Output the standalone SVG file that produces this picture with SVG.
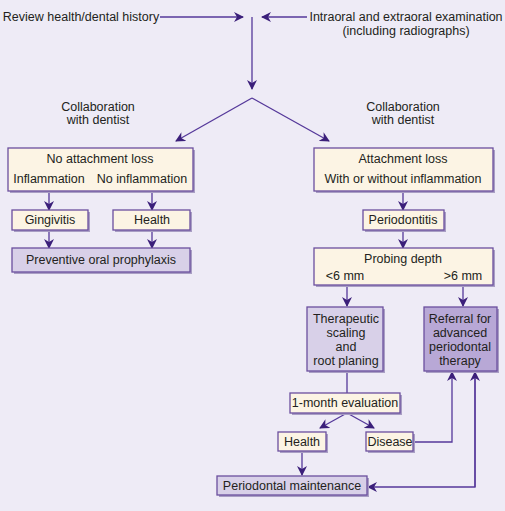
<svg xmlns="http://www.w3.org/2000/svg" width="505" height="511" viewBox="0 0 505 511">
<style>
text{font-family:"Liberation Sans",Arial,sans-serif;font-size:12.5px;fill:#231f20;text-anchor:middle}
.box{stroke:#6b4f9e;stroke-width:1.3}
.cream{fill:#fcf4e4}
.lav{fill:#d8d0e8}
.dark{fill:#b8a8d6}
.sh{fill:#a99ec4}
.ln{fill:none;stroke:#55389a;stroke-width:1.3}
</style>
<defs>
<marker id="ah" viewBox="0 0 10 10" refX="9" refY="5" markerWidth="10" markerHeight="10" markerUnits="userSpaceOnUse" orient="auto">
<path d="M0,0 L10,5 L0,10 L3,5 z" fill="#3b1f7a"/>
</marker>
</defs>
<rect width="505" height="511" fill="#eeebf6"/>
<g id="connectors">
<line class="ln" x1="160" y1="17" x2="243" y2="17" marker-end="url(#ah)"/>
<line class="ln" x1="307" y1="17" x2="262" y2="17" marker-end="url(#ah)"/>
<line class="ln" x1="252" y1="17" x2="252" y2="89" marker-end="url(#ah)"/>
<line class="ln" x1="252" y1="98" x2="176" y2="141" marker-end="url(#ah)"/>
<line class="ln" x1="252" y1="98" x2="329" y2="141" marker-end="url(#ah)"/>
<line class="ln" x1="49" y1="191" x2="49" y2="210" marker-end="url(#ah)"/>
<line class="ln" x1="152" y1="191" x2="152" y2="210" marker-end="url(#ah)"/>
<line class="ln" x1="49" y1="230" x2="49" y2="248" marker-end="url(#ah)"/>
<line class="ln" x1="152" y1="230" x2="152" y2="248" marker-end="url(#ah)"/>
<line class="ln" x1="403" y1="191" x2="403" y2="210" marker-end="url(#ah)"/>
<line class="ln" x1="403" y1="230" x2="403" y2="248" marker-end="url(#ah)"/>
<line class="ln" x1="347" y1="285" x2="347" y2="306" marker-end="url(#ah)"/>
<line class="ln" x1="463" y1="285" x2="463" y2="306" marker-end="url(#ah)"/>
<line class="ln" x1="347" y1="371" x2="347" y2="393"/>
<line class="ln" x1="347" y1="413" x2="320" y2="428" marker-end="url(#ah)"/>
<line class="ln" x1="347" y1="413" x2="374" y2="428" marker-end="url(#ah)"/>
<polyline class="ln" points="413,442 452,442 452,372" marker-end="url(#ah)"/>
<line class="ln" x1="302" y1="451" x2="302" y2="475" marker-end="url(#ah)"/>
<polyline class="ln" points="475,372 475,487 368,487" marker-end="url(#ah)"/>
<line class="ln" x1="475" y1="487" x2="475" y2="372" marker-end="url(#ah)"/>
</g>
<g id="review"><text x="81" y="21">Review health/dental history</text></g>
<g id="exam"><text x="406" y="21">Intraoral and extraoral examination</text><text x="406" y="35">(including radiographs)</text></g>
<g id="collab-left"><text x="98" y="111">Collaboration</text><text x="98" y="124">with dentist</text></g>
<g id="collab-right"><text x="403" y="111">Collaboration</text><text x="403" y="124">with dentist</text></g>
<g id="no-attachment-loss">
<rect class="sh" x="10" y="150" width="185" height="43"/>
<rect class="box cream" x="8" y="148" width="185" height="43"/>
<text x="100" y="163">No attachment loss</text>
<text x="49" y="183">Inflammation</text>
<text x="142" y="183">No inflammation</text>
</g>
<g id="gingivitis">
<rect class="sh" x="14" y="212" width="76" height="20"/>
<rect class="box cream" x="12" y="210" width="76" height="20"/>
<text x="50" y="224">Gingivitis</text>
</g>
<g id="health-left">
<rect class="sh" x="115" y="212" width="77" height="20"/>
<rect class="box cream" x="113" y="210" width="77" height="20"/>
<text x="152" y="224">Health</text>
</g>
<g id="prophylaxis">
<rect class="sh" x="14" y="250" width="178" height="24"/>
<rect class="box lav" x="12" y="248" width="178" height="24"/>
<text x="101" y="264">Preventive oral prophylaxis</text>
</g>
<g id="attachment-loss">
<rect class="sh" x="316" y="150" width="179" height="43"/>
<rect class="box cream" x="314" y="148" width="179" height="43"/>
<text x="403" y="163">Attachment loss</text>
<text x="403" y="183">With or without inflammation</text>
</g>
<g id="periodontitis">
<rect class="sh" x="365" y="212" width="81" height="20"/>
<rect class="box cream" x="363" y="210" width="81" height="20"/>
<text x="403" y="224">Periodontitis</text>
</g>
<g id="probing">
<rect class="sh" x="316" y="250" width="179" height="37"/>
<rect class="box cream" x="314" y="248" width="179" height="37"/>
<text x="403" y="263">Probing depth</text>
<text x="345" y="280">&lt;6 mm</text>
<text x="463" y="280">&gt;6 mm</text>
</g>
<g id="scaling">
<rect class="sh" x="309" y="309" width="76" height="64"/>
<rect class="box lav" x="307" y="307" width="76" height="64"/>
<text x="346" y="323">Therapeutic</text>
<text x="346" y="337">scaling</text>
<text x="346" y="351">and</text>
<text x="346" y="365">root planing</text>
</g>
<g id="referral">
<rect class="sh" x="426" y="309" width="73" height="64"/>
<rect class="box dark" x="424" y="307" width="73" height="64"/>
<text x="460" y="323">Referral for</text>
<text x="460" y="337">advanced</text>
<text x="460" y="351">periodontal</text>
<text x="460" y="365">therapy</text>
</g>
<g id="evaluation">
<rect class="sh" x="292" y="395" width="110" height="20"/>
<rect class="box cream" x="290" y="393" width="110" height="20"/>
<text x="345" y="407">1-month evaluation</text>
</g>
<g id="health-right">
<rect class="sh" x="280" y="434" width="48" height="19"/>
<rect class="box cream" x="278" y="432" width="48" height="19"/>
<text x="302" y="446">Health</text>
</g>
<g id="disease">
<rect class="sh" x="368" y="434" width="47" height="19"/>
<rect class="box cream" x="366" y="432" width="47" height="19"/>
<text x="390" y="446">Disease</text>
</g>
<g id="maintenance">
<rect class="sh" x="219" y="478" width="150" height="19"/>
<rect class="box lav" x="217" y="476" width="150" height="19"/>
<text x="292" y="490">Periodontal maintenance</text>
</g>
</svg>
